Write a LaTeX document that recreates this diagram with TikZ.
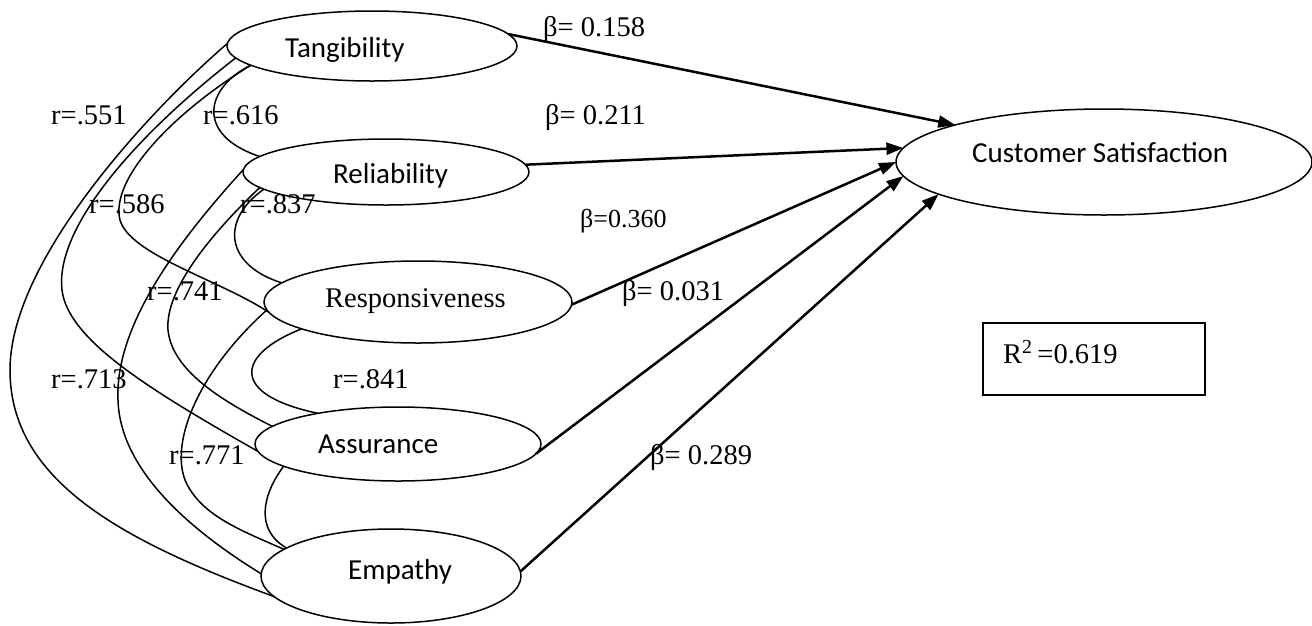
\documentclass[tikz,border=0pt]{standalone}
\usepackage{fontspec}
\setmainfont{Liberation Serif}
\newfontfamily\carl{Carlito}
\usetikzlibrary{shapes.geometric,arrows.meta}
\begin{document}
\begin{tikzpicture}[x=1pt,y=-1pt,
 oval/.style={ellipse,draw,line width=1.5pt,inner sep=0pt,outer sep=0pt},
 corr/.style={line width=1.5pt},
 beta/.style={line width=2.5pt,-{Triangle[length=17pt,width=12pt]}},
 lab/.style={anchor=base west,inner sep=0pt,font=\fontsize{28.5}{34}\selectfont},
 smalllab/.style={anchor=base west,inner sep=0pt,font=\fontsize{26}{30}\selectfont},
 nm/.style={anchor=base west,inner sep=0pt,font=\carl\fontsize{29}{34}\selectfont}]
\useasboundingbox (0,0) rectangle (1312,625);
% ellipses
\node[oval,minimum width=290pt,minimum height=70pt] (T) at (372,46) {};
\node[oval,minimum width=286pt,minimum height=66pt] (R) at (386,172) {};
\node[oval,minimum width=308pt,minimum height=82pt] (S) at (418,302) {};
\node[oval,minimum width=286pt,minimum height=74pt] (A) at (398,444) {};
\node[oval,minimum width=260pt,minimum height=94pt] (E) at (391,576) {};
\node[oval,minimum width=416pt,minimum height=106pt] (CS) at (1104,162) {};
\node[draw,line width=2pt,minimum width=222pt,minimum height=72pt,inner sep=0pt] (box) at (1094,359) {};
% names
\node[nm] (tT) at (285,57) {Tangibility};
\node[nm] (tR) at (333,183) {Reliability};
\node[lab] (tS) at (325,307) {Responsiveness};
\node[nm] (tA) at (318,453) {Assurance};
\node[nm] (tE) at (348,579) {Empathy};
\node[nm] (tCS) at (972,162) {Customer Satisfaction};
\node[lab] (tR2) at (1003,363) {R\textsuperscript{2}\,=0.619};
% beta labels
\node[lab] (b1) at (543,36) {β= 0.158};
\node[lab] (b2) at (545,124) {β= 0.211};
\node[smalllab] (b3) at (580,227) {β=0.360};
\node[lab] (b4) at (622,300) {β= 0.031};
\node[lab] (b5) at (650,464) {β= 0.289};
% r labels
\node[lab] (r1) at (51,124) {r=.551};
\node[lab] (r2) at (203,124) {r=.616};
\node[lab] (r3) at (89,213) {r=.586};
\node[lab] (r4) at (240,213) {r=.837};
\node[lab] (r5) at (147,300) {r=.741};
\node[lab] (r6) at (51,388) {r=.713};
\node[lab] (r7) at (333,388) {r=.841};
\node[lab] (r8) at (169,464) {r=.771};
% regression arrows
\draw[beta] (T.5.8) -- (CS.166.5);
\draw[beta] (R.3) -- (CS.176.4);
\draw[beta] (S.359) -- (CS.180.8);
\draw[beta] (A.356.5) -- (CS.184.4);
\draw[beta] (E.2.9) -- (CS.191);
% correlation curves
\draw[corr] (T.179) .. controls (150,110) and (10,260) .. (10,370) .. controls (10,480) and (120,540) .. (E.190.6);
\draw[corr] (T.185) .. controls (130,140) and (55,230) .. (62,290) .. controls (68,340) and (150,390) .. (A.183.3);
\draw[corr] (T.189) .. controls (170,115) and (110,180) .. (120,220) .. controls (130,255) and (220,280) .. (S.184);
\draw[corr] (T.189) .. controls (205,88) and (195,135) .. (R.173.4);
\draw[corr] (R.179) .. controls (170,250) and (115,330) .. (118,400) .. controls (120,470) and (190,530) .. (E.179.5);
\draw[corr] (R.187) .. controls (210,235) and (165,290) .. (168,330) .. controls (172,370) and (220,400) .. (A.172.3);
\draw[corr] (R.188) .. controls (220,220) and (225,265) .. (S.172.2);
\draw[corr] (S.183) .. controls (200,370) and (170,440) .. (185,480) .. controls (200,515) and (240,530) .. (E.166.5);
\draw[corr] (S.193) .. controls (235,355) and (230,395) .. (A.159.4);
\draw[corr] (A.191) .. controls (262,495) and (255,530) .. (E.165.2);
\end{tikzpicture}
\end{document}
